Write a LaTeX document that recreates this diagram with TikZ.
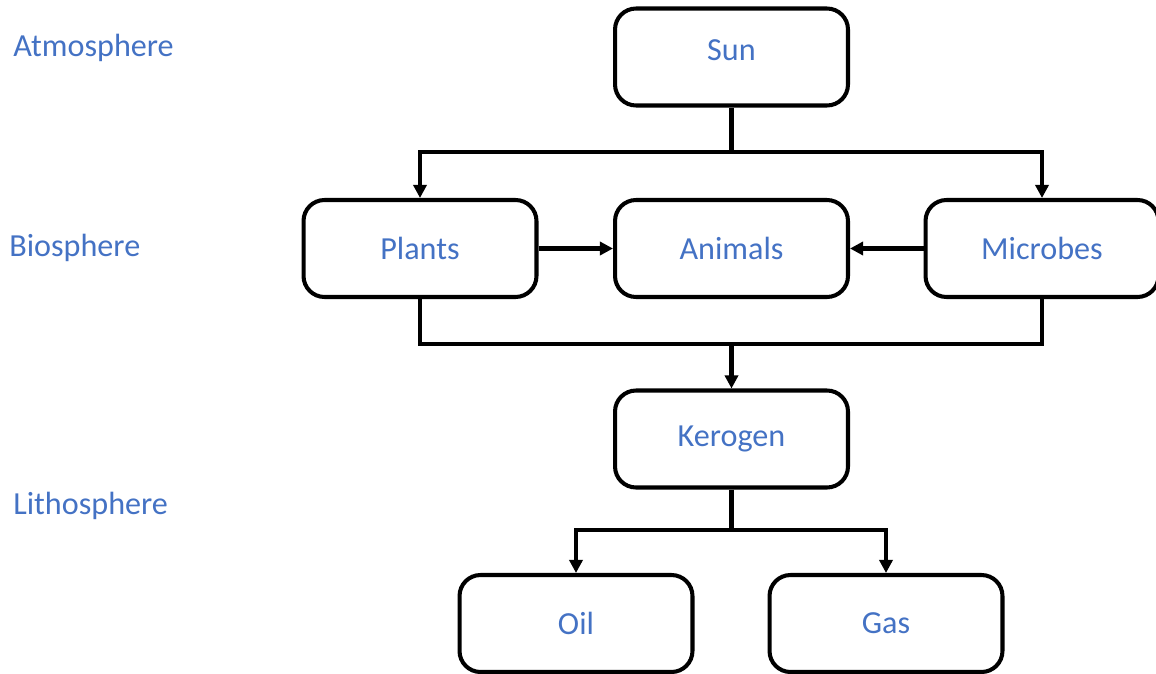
\documentclass[tikz,border=0pt]{standalone}
\usepackage{fontspec}
\setmainfont{Carlito}
\usetikzlibrary{positioning,arrows.meta}
\definecolor{txtblue}{HTML}{4472C4}

\begin{document}
\begin{tikzpicture}[x=0.02cm,y=-0.02cm,
    box/.style={draw,line width=2.3pt,rounded corners=0.42cm,minimum width=4.66cm,minimum height=1.94cm,text=txtblue,font=\fontsize{18.3}{21}\selectfont},
    lbl/.style={anchor=west,text=txtblue,font=\fontsize{18.3}{21}\selectfont,inner sep=0pt},
    wire/.style={line width=2.3pt},
    arr/.style={wire,-{Triangle[width=7.5pt,length=7.5pt]}}]
    \useasboundingbox (0,0) rectangle (1156,673);

    % Couches
    \node[lbl] (atmo) at (13,48) {Atmosphere};
    \node[lbl] (bio) at (9,248) {Biosphere};
    \node[lbl] (litho) at (13,506) {Lithosphere};

    % Boites
    \node[box] (sun) at (731.5,57) {\raisebox{0.28cm}{Sun}};
    \node[box] (plants) at (420,248.5) {Plants};
    \node[box] (animals) at (731.5,248.5) {Animals};
    \node[box] (microbes) at (1042,248.5) {Microbes};
    \node[box] (kerogen) at (731.5,439) {Kerogen};
    \node[box] (oil) at (576,623.5) {Oil};
    \node[box] (gas) at (886,623.5) {Gas};

    % Points de jonction
    \coordinate (split) at (731.5,152);
    \coordinate (merge) at (731.5,344);
    \coordinate (fork) at (731.5,530);

    % Sun vers biosphere
    \draw[wire] (sun.south) -- (split);
    \draw[arr] (split) -| (plants.north);
    \draw[arr] (split) -| (microbes.north);

    % Vers Animals
    \draw[arr] (plants.east) -- (animals.west);
    \draw[arr] (microbes.west) -- (animals.east);

    % Vers Kerogen
    \draw[wire] (plants.south) |- (merge) -| (microbes.south);
    \draw[arr] (merge) -- (kerogen.north);

    % Kerogen vers Oil et Gas
    \draw[wire] (kerogen.south) -- (fork);
    \draw[arr] (fork) -| (oil.north);
    \draw[arr] (fork) -| (gas.north);
\end{tikzpicture}
\end{document}
